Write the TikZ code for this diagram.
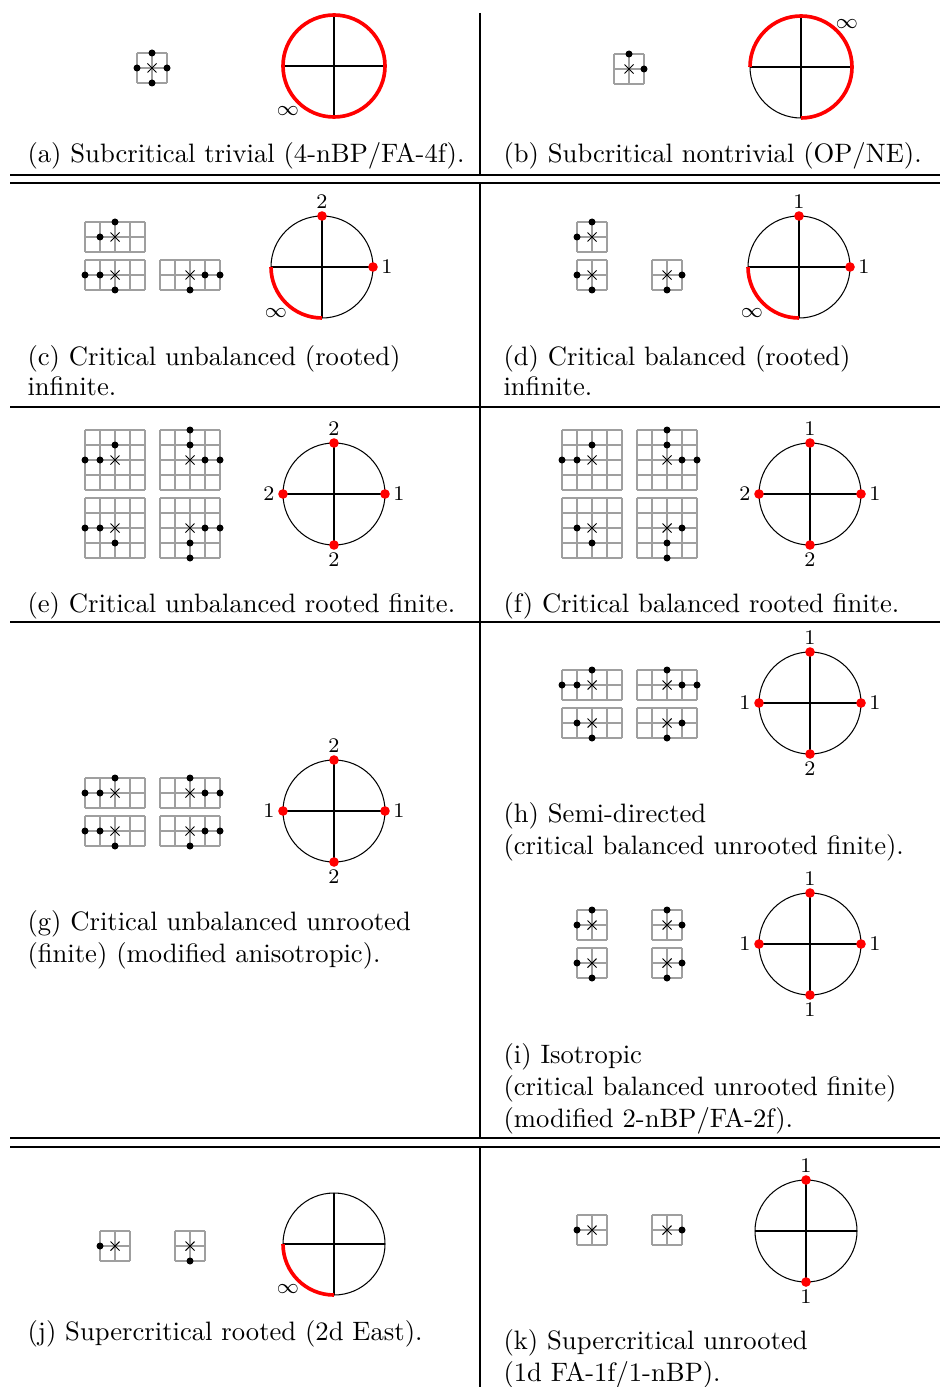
\documentclass[tikz,border=0pt]{standalone}
\tikzset{
  latgrid/.style={draw=gray!75, line width=0.5pt},
  crossmark/.style={draw=black, line width=0.4pt},
  dotmark/.style={fill=black},
  ringline/.style={draw=black, line width=0.4pt},
  redarc/.style={draw=red, line width=1.4pt},
  reddot/.style={fill=red},
  numlab/.style={font=\footnotesize, inner sep=0pt},
  caption/.style={anchor=base west, inner sep=0pt, font=\fontsize{10.25pt}{12.3pt}\selectfont},
  tabrule/.style={draw=black, line width=0.4pt},
}
% lattice: cx, cy (px, downwards), half width (cells), half height (cells), dots list a/b
\newcommand\lat[5]{%
  \begin{scope}[shift={(#1,-#2)}]
    \foreach \i in {-#3,...,#3} \draw[latgrid] (\i*15,-#4*15) -- (\i*15,#4*15);
    \foreach \j in {-#4,...,#4} \draw[latgrid] (-#3*15,\j*15) -- (#3*15,\j*15);
    \draw[crossmark] (-4.5,-4.5) -- (4.5,4.5) (-4.5,4.5) -- (4.5,-4.5);
    \foreach \a/\b in {#5} \fill[dotmark] (\a*15,\b*15) circle[radius=3.5];
  \end{scope}}
% ring: cx, cy (px, downwards)
\newcommand\ringcirc[2]{%
  \draw[ringline] (#1-51,-#2) -- (#1+51,-#2) (#1,-#2+51) -- (#1,-#2-51);
  \draw[ringline] (#1,-#2) circle[radius=51];}
\newcommand\rdot[2]{\fill[reddot] (#1,-#2) circle[radius=4.8];}
\begin{document}
\begin{tikzpicture}[x=0.385pt, y=0.385pt]
\useasboundingbox (0,0) rectangle (940,-1387);

% ---- table rules ----
\draw[tabrule] (10,-175) -- (940,-175);
\draw[tabrule] (10,-183) -- (940,-183);
\draw[tabrule] (10,-407) -- (940,-407);
\draw[tabrule] (10,-622) -- (940,-622);
\draw[tabrule] (10,-1138) -- (940,-1138);
\draw[tabrule] (10,-1147) -- (940,-1147);
\draw[tabrule] (480,-13) -- (480,-175);
\draw[tabrule] (480,-183) -- (480,-1138);
\draw[tabrule] (480,-1147) -- (480,-1387);

% ---- (a) ----
\lat{152}{68}{1}{1}{-1/0,1/0,0/1,0/-1}
\ringcirc{334}{66}
\draw[redarc] (334,-66) circle[radius=51];
\node[numlab] (a-inf) at (288,-111) {$\infty$};
\node[caption] (a-cap) at (27,-163) {(a) Subcritical trivial (4-nBP/FA-4f).};

% ---- (b) ----
\lat{629}{69}{1}{1}{0/1,1/0}
\ringcirc{801}{67}
\draw[redarc] (750,-67) arc[start angle=180, end angle=-90, radius=51];
\node[numlab] (b-inf) at (847,-24) {$\infty$};
\node[caption] (b-cap) at (503,-163) {(b) Subcritical nontrivial (OP/NE).};

% ---- (c) ----
\lat{115}{237}{2}{1}{-1/0,0/1}
\lat{115}{275}{2}{1}{-2/0,-1/0,0/-1}
\lat{190}{275}{2}{1}{1/0,2/0,0/-1}
\ringcirc{322}{267}
\draw[redarc] (271,-267) arc[start angle=180, end angle=270, radius=51];
\rdot{322}{216}\rdot{373}{267}
\node[numlab] (c-t) at (322,-202) {2};
\node[numlab] (c-r) at (387,-267) {1};
\node[numlab] (c-inf) at (276,-313) {$\infty$};
\node[caption] (c-cap1) at (27,-365) {(c) Critical unbalanced (rooted)};
\node[caption] (c-cap2) at (27,-395) {infinite.};

% ---- (d) ----
\lat{592}{237}{1}{1}{-1/0,0/1}
\lat{592}{275}{1}{1}{-1/0,0/-1}
\lat{667}{275}{1}{1}{1/0,0/-1}
\ringcirc{799}{267}
\draw[redarc] (748,-267) arc[start angle=180, end angle=270, radius=51];
\rdot{799}{216}\rdot{850}{267}
\node[numlab] (d-t) at (799,-202) {1};
\node[numlab] (d-r) at (864,-267) {1};
\node[numlab] (d-inf) at (752,-313) {$\infty$};
\node[caption] (d-cap1) at (503,-365) {(d) Critical balanced (rooted)};
\node[caption] (d-cap2) at (503,-395) {infinite.};

% ---- (e) ----
\lat{115}{460}{2}{2}{-2/0,-1/0,0/1}
\lat{190}{460}{2}{2}{0/2,0/1,1/0,2/0}
\lat{115}{528}{2}{2}{-2/0,-1/0,0/-1}
\lat{190}{528}{2}{2}{1/0,2/0,0/-1,0/-2}
\ringcirc{334}{494}
\rdot{334}{443}\rdot{385}{494}\rdot{334}{545}\rdot{283}{494}
\node[numlab] (e-t) at (334,-429) {2};
\node[numlab] (e-r) at (399,-494) {1};
\node[numlab] (e-b) at (334,-560) {2};
\node[numlab] (e-l) at (269,-494) {2};
\node[caption] (e-cap) at (27,-612) {(e) Critical unbalanced rooted finite.};

% ---- (f) ----
\lat{592}{460}{2}{2}{-2/0,-1/0,0/1}
\lat{667}{460}{2}{2}{0/2,0/1,1/0,2/0}
\lat{592}{528}{2}{2}{-1/0,0/-1}
\lat{667}{528}{2}{2}{1/0,0/-1,0/-2}
\ringcirc{810}{494}
\rdot{810}{443}\rdot{861}{494}\rdot{810}{545}\rdot{759}{494}
\node[numlab] (f-t) at (810,-429) {1};
\node[numlab] (f-r) at (875,-494) {1};
\node[numlab] (f-b) at (810,-560) {2};
\node[numlab] (f-l) at (745,-494) {2};
\node[caption] (f-cap) at (503,-612) {(f) Critical balanced rooted finite.};

% ---- (g) ----
\lat{115}{793}{2}{1}{-2/0,-1/0,0/1}
\lat{190}{793}{2}{1}{0/1,1/0,2/0}
\lat{115}{831}{2}{1}{-2/0,-1/0,0/-1}
\lat{190}{831}{2}{1}{1/0,2/0,0/-1}
\ringcirc{334}{811}
\rdot{334}{760}\rdot{385}{811}\rdot{334}{862}\rdot{283}{811}
\node[numlab] (g-t) at (334,-746) {2};
\node[numlab] (g-r) at (399,-811) {1};
\node[numlab] (g-b) at (334,-877) {2};
\node[numlab] (g-l) at (269,-811) {1};
\node[caption] (g-cap1) at (27,-930) {(g) Critical unbalanced unrooted};
\node[caption] (g-cap2) at (27,-962) {(finite) (modified anisotropic).};

% ---- (h) ----
\lat{592}{685}{2}{1}{-2/0,-1/0,0/1}
\lat{667}{685}{2}{1}{0/1,1/0,2/0}
\lat{592}{723}{2}{1}{-1/0,0/-1}
\lat{667}{723}{2}{1}{1/0,0/-1}
\ringcirc{810}{703}
\rdot{810}{652}\rdot{861}{703}\rdot{810}{754}\rdot{759}{703}
\node[numlab] (h-t) at (810,-638) {1};
\node[numlab] (h-r) at (875,-703) {1};
\node[numlab] (h-b) at (810,-769) {2};
\node[numlab] (h-l) at (745,-703) {1};
\node[caption] (h-cap1) at (503,-822) {(h) Semi-directed};
\node[caption] (h-cap2) at (503,-854) {(critical balanced unrooted finite).};

% ---- (i) ----
\lat{592}{925}{1}{1}{-1/0,0/1}
\lat{667}{925}{1}{1}{0/1,1/0}
\lat{592}{963}{1}{1}{-1/0,0/-1}
\lat{667}{963}{1}{1}{1/0,0/-1}
\ringcirc{810}{944}
\rdot{810}{893}\rdot{861}{944}\rdot{810}{995}\rdot{759}{944}
\node[numlab] (i-t) at (810,-879) {1};
\node[numlab] (i-r) at (875,-944) {1};
\node[numlab] (i-b) at (810,-1010) {1};
\node[numlab] (i-l) at (745,-944) {1};
\node[caption] (i-cap1) at (503,-1063) {(i) Isotropic};
\node[caption] (i-cap2) at (503,-1095) {(critical balanced unrooted finite)};
\node[caption] (i-cap3) at (503,-1127) {(modified 2-nBP/FA-2f).};

% ---- (j) ----
\lat{115}{1246}{1}{1}{-1/0}
\lat{190}{1246}{1}{1}{0/-1}
\ringcirc{334}{1244}
\draw[redarc] (283,-1244) arc[start angle=180, end angle=270, radius=51];
\node[numlab] (j-inf) at (288,-1289) {$\infty$};
\node[caption] (j-cap) at (27,-1340) {(j) Supercritical rooted (2d East).};

% ---- (k) ----
\lat{592}{1230}{1}{1}{-1/0}
\lat{667}{1230}{1}{1}{1/0}
\ringcirc{806}{1231}
\rdot{806}{1180}\rdot{806}{1282}
\node[numlab] (k-t) at (806,-1166) {1};
\node[numlab] (k-b) at (806,-1297) {1};
\node[caption] (k-cap1) at (503,-1349) {(k) Supercritical unrooted};
\node[caption] (k-cap2) at (503,-1381) {(1d FA-1f/1-nBP).};
\end{tikzpicture}
\end{document}
